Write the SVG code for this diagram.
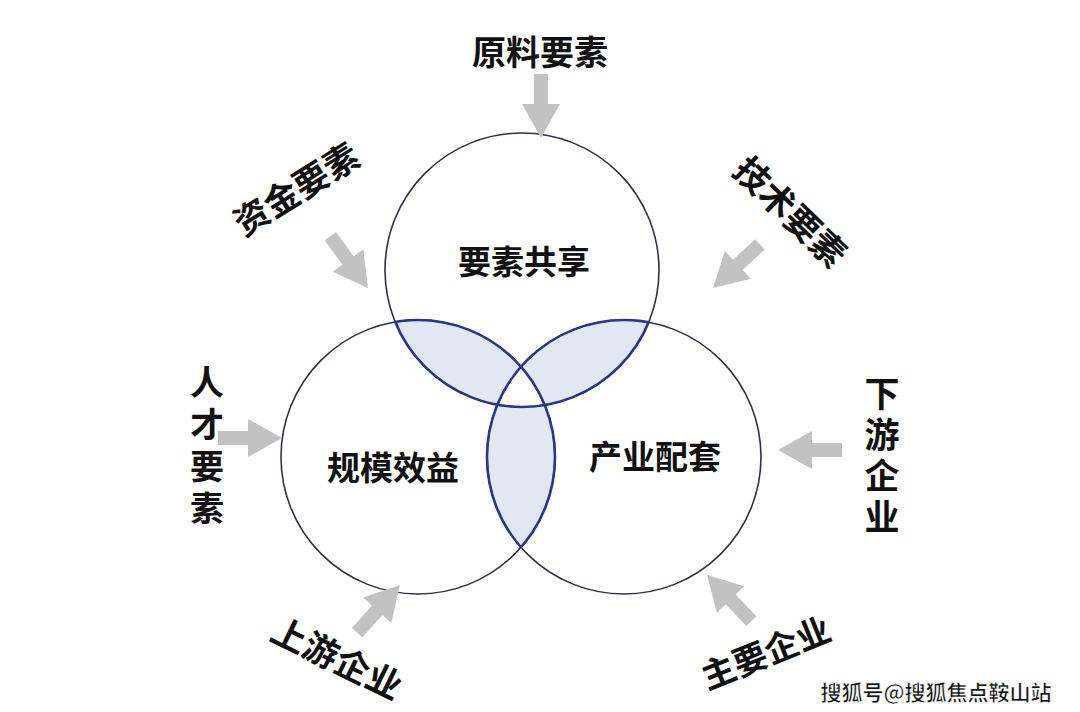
<svg xmlns="http://www.w3.org/2000/svg" width="1080" height="712" viewBox="0 0 1080 712">
<style>
.lbl{font-family:"Noto Sans CJK SC","Noto Sans",sans-serif;font-weight:700;fill:#111;text-anchor:middle;dominant-baseline:central}
.vlbl{font-family:"Noto Sans CJK SC","Noto Sans",sans-serif;font-weight:700;fill:#111;writing-mode:vertical-rl;text-anchor:start}
.ring{fill:none;stroke:#2c3149;stroke-width:1.6}
.inner{fill:none;stroke:#2a3590;stroke-width:2.6}
.lens{fill:#e2e7f4}
.arrow{fill:#c2c2c2}
</style>
<defs>
<clipPath id="cT"><circle cx="522" cy="270" r="137"/></clipPath>
<clipPath id="cL"><circle cx="418" cy="457" r="137"/></clipPath>
<clipPath id="cR"><circle cx="624" cy="457" r="137"/></clipPath>
<clipPath id="cLR"><circle cx="418" cy="457" r="137"/><circle cx="624" cy="457" r="137"/></clipPath>
<clipPath id="cTR"><circle cx="522" cy="270" r="137"/><circle cx="624" cy="457" r="137"/></clipPath>
<clipPath id="cTL"><circle cx="522" cy="270" r="137"/><circle cx="418" cy="457" r="137"/></clipPath>
<path id="arw" d="M0,0 L-34,-19 L-34,-7 L-64,-7 L-64,7 L-34,7 L-34,19 Z"/>
</defs>
<rect width="1080" height="712" fill="#ffffff"/>
<g id="lenses">
<g clip-path="url(#cT)"><circle class="lens" cx="418" cy="457" r="137"/><circle class="lens" cx="624" cy="457" r="137"/></g>
<g clip-path="url(#cL)"><circle class="lens" cx="624" cy="457" r="137"/></g>
<g clip-path="url(#cT)"><g clip-path="url(#cL)"><circle cx="624" cy="457" r="137" fill="#ffffff"/></g></g>
</g>
<g id="node-top"><circle class="ring" cx="522" cy="270" r="137"/><text class="lbl" x="524" y="260" font-size="33">要素共享</text></g>
<g id="node-left"><circle class="ring" cx="418" cy="457" r="137"/><text class="lbl" x="393" y="466" font-size="33">规模效益</text></g>
<g id="node-right"><circle class="ring" cx="624" cy="457" r="137"/><text class="lbl" x="655" y="455" font-size="33">产业配套</text></g>
<g id="inner-arcs">
<g clip-path="url(#cLR)"><circle class="inner" cx="522" cy="270" r="137"/></g>
<g clip-path="url(#cTR)"><circle class="inner" cx="418" cy="457" r="137"/></g>
<g clip-path="url(#cTL)"><circle class="inner" cx="624" cy="457" r="137"/></g>
</g>
<g id="connectors">
<use href="#arw" class="arrow" transform="translate(541,138) rotate(90)"/>
<use href="#arw" class="arrow" transform="translate(368,288) rotate(54)"/>
<use href="#arw" class="arrow" transform="translate(713,288) rotate(137)"/>
<use href="#arw" class="arrow" transform="translate(282,438)"/>
<use href="#arw" class="arrow" transform="translate(778,450) rotate(180)"/>
<use href="#arw" class="arrow" transform="translate(400,585) rotate(-48)"/>
<use href="#arw" class="arrow" transform="translate(707,575) rotate(-134)"/>
</g>
<g id="src-raw"><text class="lbl" x="540" y="50" font-size="34">原料要素</text></g>
<g id="src-fund"><text class="lbl" font-size="35" transform="translate(295,187) rotate(-32)">资金要素</text></g>
<g id="src-tech"><text class="lbl" font-size="35" transform="translate(792,210) rotate(44)">技术要素</text></g>
<g id="src-talent"><text class="vlbl" x="207" y="365" font-size="34" letter-spacing="8">人才要素</text></g>
<g id="src-down"><text class="vlbl" x="882" y="376" font-size="35" letter-spacing="6">下游企业</text></g>
<g id="src-up"><text class="lbl" font-size="35" transform="translate(338,656) rotate(26)">上游企业</text></g>
<g id="src-main"><text class="lbl" font-size="34" transform="translate(765,651) rotate(-22)">主要企业</text></g>
<text x="936" y="691" font-size="21" font-family="Noto Sans CJK SC,Noto Sans,sans-serif" font-weight="700" fill="#111" stroke="#ffffff" stroke-width="0.6" text-anchor="middle" dominant-baseline="central">搜狐号@搜狐焦点鞍山站</text>
</svg>
